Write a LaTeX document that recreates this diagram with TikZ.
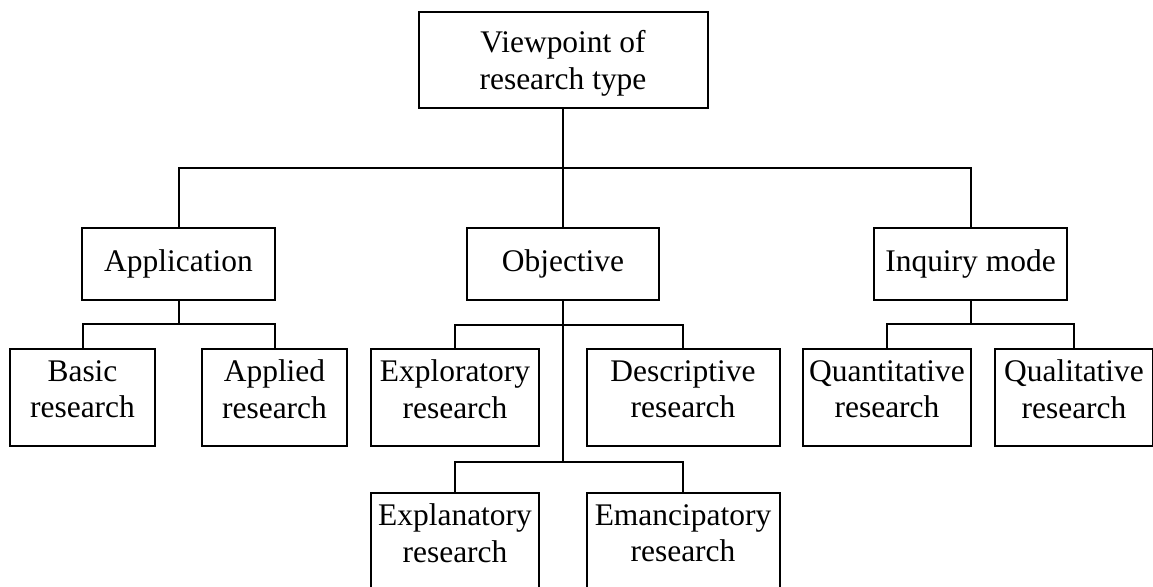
\documentclass[tikz,border=0pt]{standalone}
\usepackage{fontspec}
\setmainfont{Liberation Serif}
\begin{document}
\begin{tikzpicture}[x=0.75pt,y=-0.75pt,
  box/.style={draw,line width=1.5pt,rectangle,inner sep=0pt,align=center,
    font=\fontsize{23.6pt}{27.4pt}\selectfont},
  twoline/.style={box,text depth=12pt},
  link/.style={line width=1.5pt}]
\clip (0,0) rectangle (1153,586);
% root
\node[box,text depth=0pt,minimum width=216.75pt,minimum height=72pt] (root) at (563,60) {Viewpoint of\\research type};
% second level
\node[box,minimum width=144.75pt,minimum height=54pt] (app) at (178.5,264) {Application};
\node[box,minimum width=144pt,minimum height=54pt] (obj) at (563,264) {Objective};
\node[box,minimum width=144.75pt,minimum height=54pt] (inq) at (970.5,264) {Inquiry mode};
% third level
\node[twoline,minimum width=108.75pt,minimum height=72.75pt] (basic) at (82.5,397) {Basic\\research};
\node[twoline,minimum width=108.75pt,minimum height=72.75pt] (applied) at (274.5,397) {Applied\\research};
\node[twoline,minimum width=126pt,minimum height=72.75pt] (explor) at (455,397) {Exploratory\\research};
\node[twoline,minimum width=144.75pt,minimum height=72.75pt] (descr) at (683,397) {Descriptive\\research};
\node[twoline,minimum width=126pt,minimum height=72.75pt] (quant) at (887,397) {Quantitative\\research};
\node[twoline,minimum width=118.5pt,minimum height=72.75pt] (qual) at (1074,397) {Qualitative\\research};
\node[twoline,minimum width=126pt,minimum height=72.75pt] (expl) at (455,541) {Explanatory\\research};
\node[twoline,minimum width=144.75pt,minimum height=72.75pt] (eman) at (683,541) {Emancipatory\\research};
% bus levels
\coordinate (bar) at (0,168);
\coordinate (subA) at (0,324);
\coordinate (subB) at (0,325);
\coordinate (subC) at (0,462);
% connectors
\draw[link] (root.south) -- (root.south |- bar);
\draw[link] (app.north) |- (root.south |- bar) -| (inq.north);
\draw[link] (root.south |- bar) -- (obj.north);
\draw[link] (app.south) -- (app.south |- subA);
\draw[link] (basic.north) |- (app.south |- subA) -| (applied.north);
\draw[link] (obj.south) -- (obj.south |- subC);
\draw[link] (explor.north) |- (obj.south |- subB) -| (descr.north);
\draw[link] (expl.north) |- (obj.south |- subC) -| (eman.north);
\draw[link] (inq.south) -- (inq.south |- subA);
\draw[link] (quant.north) |- (inq.south |- subA) -| (qual.north);
\end{tikzpicture}
\end{document}
